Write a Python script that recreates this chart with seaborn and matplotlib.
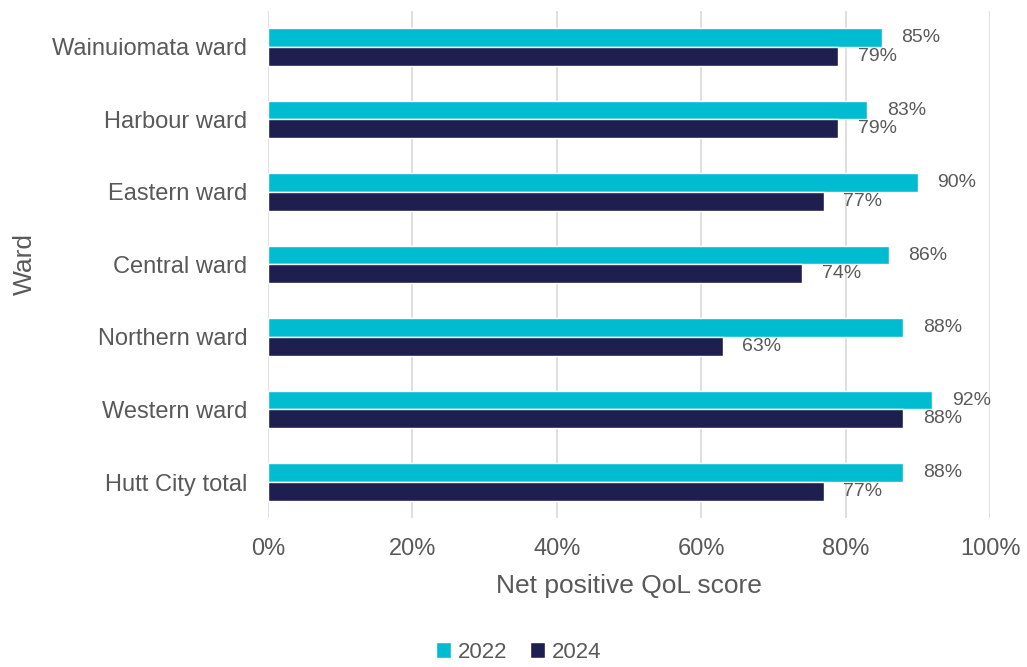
import matplotlib
matplotlib.use('Agg')
import matplotlib.pyplot as plt
import pandas as pd
import seaborn as sns
from matplotlib.ticker import PercentFormatter

wards = ['Wainuiomata ward', 'Harbour ward', 'Eastern ward', 'Central ward',
         'Northern ward', 'Western ward', 'Hutt City total']
score_2022 = [85, 83, 90, 86, 88, 92, 88]
score_2024 = [79, 79, 77, 74, 63, 88, 77]
years = ['2022', '2024']
colors = ['#00BCD0', '#1F1F4F']

df = pd.DataFrame({
    'Ward': wards * 2,
    'Score': score_2022 + score_2024,
    'Year': [years[0]] * len(wards) + [years[1]] * len(wards),
})

sns.set_style('white')
plt.rcParams['font.family'] = ['Liberation Sans', 'DejaVu Sans']
text_color = '#595959'

fig = plt.figure(figsize=(10.27, 6.67), dpi=100)
ax = fig.add_axes([0.261, 0.223, 0.703, 0.761])

sns.barplot(data=df, y='Ward', x='Score', hue='Year', order=wards,
            hue_order=years, palette=colors, orient='h', width=0.52,
            saturation=1, ax=ax, zorder=3)

for container in ax.containers:
    ax.bar_label(container, labels=[f'{v:.0f}%' for v in container.datavalues],
                 padding=14, fontsize=14, color=text_color)

ax.set_xlim(0, 100)
ax.set_xticks(range(0, 101, 20))
ax.xaxis.set_major_formatter(PercentFormatter(decimals=0))
ax.grid(axis='x', color='#D9D9D9', linewidth=1.2, zorder=0)
ax.set_axisbelow(True)
for spine in ax.spines.values():
    spine.set_visible(False)
ax.tick_params(axis='both', length=0, labelsize=17, labelcolor=text_color)
ax.tick_params(axis='y', pad=15)
ax.tick_params(axis='x', pad=14)

ax.set_xlabel('Net positive QoL score', fontsize=19, color=text_color, labelpad=10)
ax.set_ylabel('Ward', fontsize=19, color=text_color, labelpad=11)

handles, labels = ax.get_legend_handles_labels()
ax.legend_.remove()
fig.legend(handles, labels, loc='center', bbox_to_anchor=(0.505, 0.022), ncol=2,
           frameon=False, fontsize=16, labelcolor=text_color, handlelength=0.7,
           handleheight=0.7, handletextpad=0.3, columnspacing=1.0)

fig.savefig('out.png', dpi=100)
